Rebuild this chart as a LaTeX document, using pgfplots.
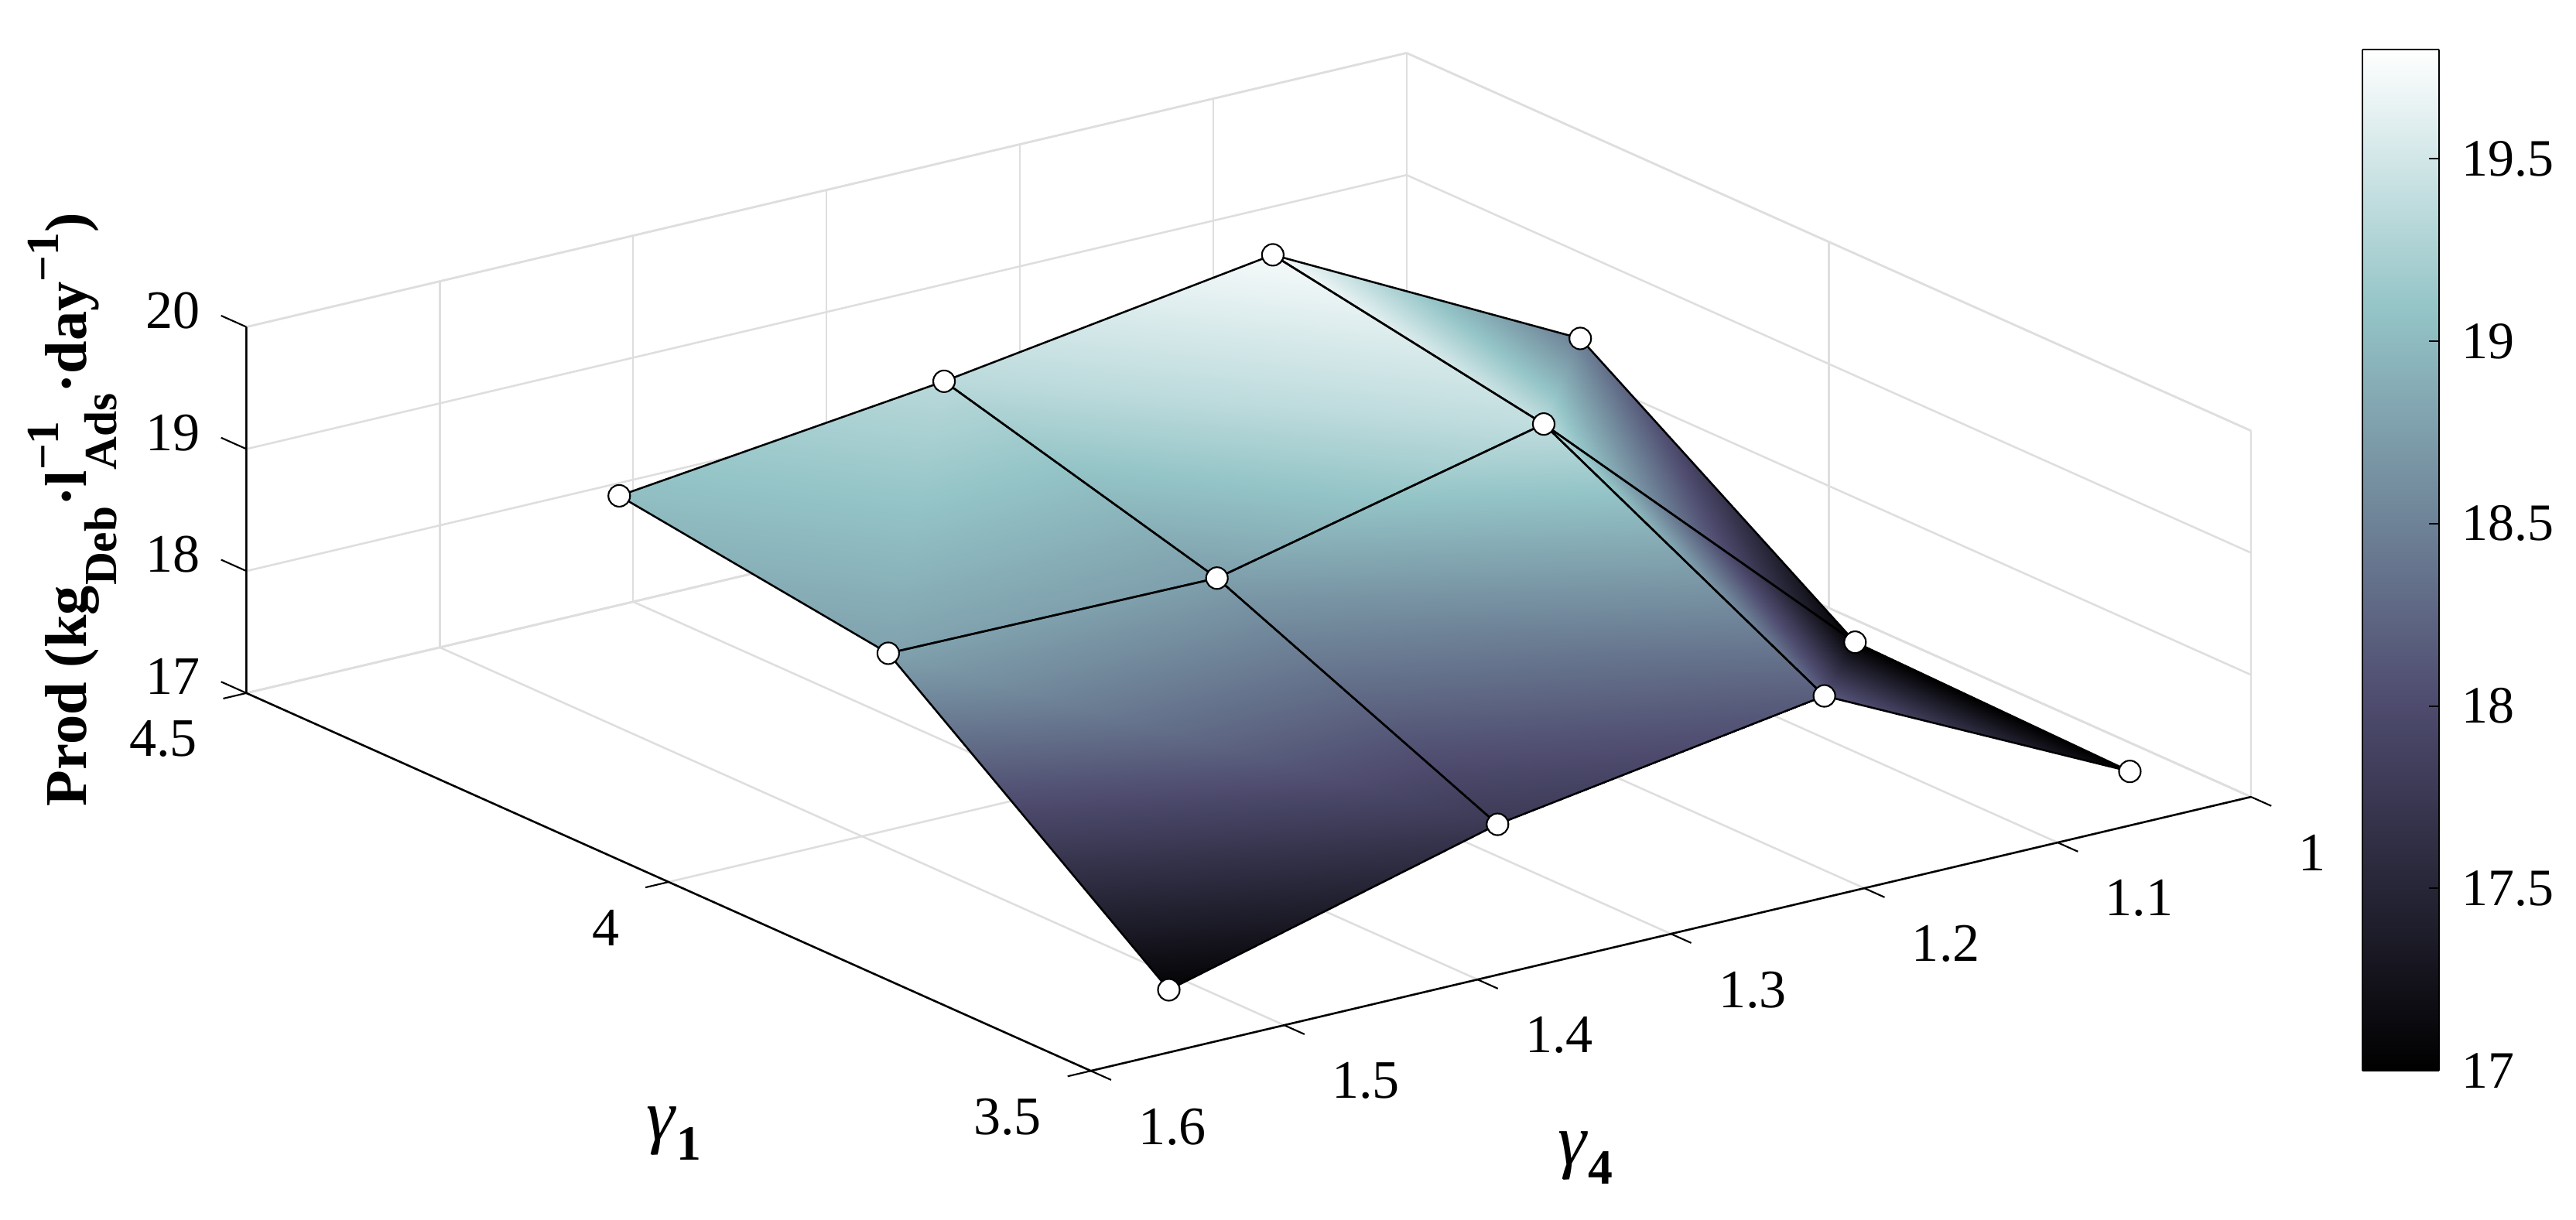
\documentclass[border=0pt]{standalone}
\usepackage{fontspec}
\setmainfont{Liberation Serif}
\usepackage{pgfplots}
\usepackage{pgfplotstable}
\pgfplotsset{compat=1.18}
\usepgfplotslibrary{patchplots}
\pgfplotsset{
  colormap={bone}{rgb(0pt)=(0,0,0); rgb(365pt)=(0.31,0.30,0.44); rgb(746pt)=(0.58,0.77,0.78); rgb(1000pt)=(1,1,1)},
}
\pgfplotstableread{
g4 g1 p
1.015 4.26 18.46
1.174 4.26 19.74
1.344 4.26 19.34
1.512 4.26 19.03
1.017 3.93 17.00
1.178 3.93 19.39
1.347 3.93 18.76
1.517 3.93 18.78
1.019 3.60 16.97
1.177 3.60 18.18
1.346 3.60 17.76
1.516 3.60 17.04
}\surfdata
\pgfplotstableread{
g4 g1 p
1.174 4.26 19.74
1.015 4.26 18.46
1.178 3.93 19.39
1.178 3.93 19.39
1.015 4.26 18.46
1.017 3.93 17.00
1.178 3.93 19.39
1.017 3.93 17.00
1.177 3.60 18.18
1.017 3.93 17.00
1.019 3.60 16.97
1.177 3.60 18.18
1.174 4.26 19.74
1.344 4.26 19.34
1.178 3.93 19.39
1.344 4.26 19.34
1.347 3.93 18.76
1.178 3.93 19.39
1.344 4.26 19.34
1.512 4.26 19.03
1.517 3.93 18.78
1.344 4.26 19.34
1.517 3.93 18.78
1.347 3.93 18.76
1.178 3.93 19.39
1.347 3.93 18.76
1.177 3.60 18.18
1.347 3.93 18.76
1.346 3.60 17.76
1.177 3.60 18.18
1.347 3.93 18.76
1.517 3.93 18.78
1.346 3.60 17.76
1.517 3.93 18.78
1.516 3.60 17.04
1.346 3.60 17.76
}\tridata
\newcommand{\tickfont}{\fontsize{16.5}{18}\selectfont}
\newcommand{\lo}[1]{\raisebox{-9pt}{\fontsize{14}{14}\selectfont #1}}
\newcommand{\hi}[1]{\raisebox{8.5pt}{\fontsize{14}{14}\selectfont #1}}
\begin{document}
\begin{tikzpicture}
\useasboundingbox (0,0) rectangle (784pt,371.39pt);
\begin{axis}[
  at={(75pt,45.4pt)}, anchor=south west,
  x dir=reverse,
  x={(588.5pt,139pt)}, y={(-257pt,115pt)}, z={(0pt,37.15pt)},
  xmin=1, xmax=1.6, ymin=3.5, ymax=4.5, zmin=17, zmax=20,
  xtick={1,1.1,1.2,1.3,1.4,1.5,1.6},
  ytick={3.5,4,4.5},
  ztick={17,18,19,20},
  grid=major,
  major grid style={draw=black!13, line width=0.6pt},
  axis line style={draw=black!13, line width=0.6pt},
  tick style={draw=none},
  tick label style={font=\tickfont},
  xticklabel style={anchor=west, xshift=11pt, yshift=-17pt},
  yticklabel style={anchor=east, xshift=-11.5pt, yshift=-14pt},
  zticklabel style={anchor=east, xshift=-10.5pt, yshift=5pt},
  /pgf/number format/assume math mode=true,
  colormap name=bone,
  point meta min=17, point meta max=19.8,
  clip=false,
  xlabel={\fontsize{22}{22}\selectfont\textit{γ}\raisebox{-6pt}{\fontsize{15}{15}\selectfont\bfseries 4}},
  ylabel={\fontsize{22}{22}\selectfont\textit{γ}\raisebox{-6pt}{\fontsize{15}{15}\selectfont\bfseries 1}},
  zlabel={\fontsize{18}{18}\selectfont\bfseries Prod (kg\lo{Deb}·l\rlap{\hi{−1}}\lo{Ads}·day\hi{−1})},
  xlabel style={at={(axis cs:1.4985,3.147,17)},anchor=center},
  ylabel style={at={(axis cs:1.786,3.568,17)},anchor=center,yshift=-1pt},
  zlabel style={at={(axis cs:1.69,4.5,18.84)},anchor=center},
]
\addplot3[patch, patch type=triangle, shader=interp, point meta=\thisrow{p}]
  table[x=g4,y=g1,z=p] {\tridata};
\addplot3[mesh, black, line width=0.6pt, mesh/cols=4, mesh/ordering=x varies]
  table[x=g4,y=g1,z=p] {\surfdata};
\addplot3[only marks, mark=*, mark size=3.3pt, mark options={fill=white,draw=black,line width=0.5pt}]
  table[x=g4,y=g1,z=p] {\surfdata};
\draw[black,line width=0.6pt] (axis cs:1.6,4.5,20) -- (axis cs:1.6,4.5,17) -- (axis cs:1.6,3.5,17) -- (axis cs:1,3.5,17);
\pgfplotsinvokeforeach{1,1.1,1.2,1.3,1.4,1.5,1.6}{
  \draw[black,line width=0.5pt] (axis cs:#1,3.5,17) -- (axis cs:#1,3.476,17);
}
\pgfplotsinvokeforeach{3.5,4,4.5}{
  \draw[black,line width=0.5pt] (axis cs:1.6,#1,17) -- (axis cs:1.612,#1,17);
}
\pgfplotsinvokeforeach{17,18,19,20}{
  \draw[black,line width=0.5pt] (axis cs:1.6,4.5,#1) -- (axis cs:1.6,4.53,#1);
}
\end{axis}
\begin{axis}[
  at={(719pt,45.4pt)}, anchor=south west,
  scale only axis, width=23.3pt, height=311pt,
  view={0}{90},
  xmin=0, xmax=1, ymin=17, ymax=19.8,
  xtick=\empty,
  ytick={17,17.5,18,18.5,19,19.5},
  ytick pos=right, yticklabel pos=right,
  tick align=inside,
  major tick length=3pt,
  tick style={draw=black, line width=0.5pt},
  axis line style={draw=black, line width=0.5pt},
  tick label style={font=\fontsize{16}{18}\selectfont},
  yticklabel style={xshift=3.5pt},
  /pgf/number format/assume math mode=true,
  colormap name=bone,
  point meta min=17, point meta max=19.8,
]
\addplot3[surf, shader=interp, point meta=y] coordinates {
  (0,17,0) (1,17,0)

  (0,19.8,0) (1,19.8,0)
};
\end{axis}
\end{tikzpicture}
\end{document}
